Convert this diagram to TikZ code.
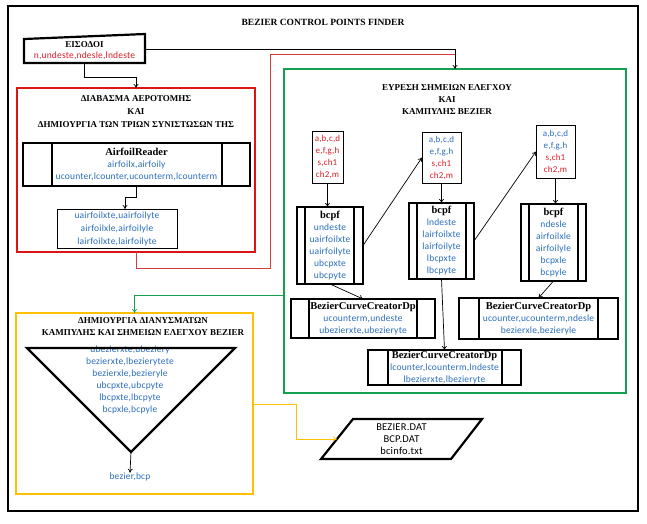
\documentclass[tikz,border=0pt]{standalone}
\usepackage{fontspec}
\setmainfont{Liberation Serif}
\newfontfamily\cb[LetterSpace=2]{Carlito}
\usetikzlibrary{arrows.meta}
\definecolor{tblue}{RGB}{40,110,190}
\definecolor{tred}{RGB}{225,30,40}
\definecolor{rbox}{RGB}{220,20,20}
\definecolor{rline}{RGB}{215,60,60}
\definecolor{gbox}{RGB}{20,160,80}
\definecolor{ybox}{RGB}{255,192,0}
\newcommand\bkt[1]{{\rmfamily\bfseries\color{black}\fontsize{10.5}{12}\selectfont #1}}
\begin{document}
\begin{tikzpicture}[x=1pt,y=-1pt,
  arr/.style={-{To[length=4pt,width=5pt]}, line width=0.7pt},
  hd/.style={font=\fontsize{9}{12}\selectfont\bfseries, align=center, inner sep=0pt},
  bt/.style={font=\cb\fontsize{9.5}{12}\selectfont, text=tblue, align=center, inner sep=0pt},
  proc/.style={draw, line width=2.2pt, inner sep=0pt, outer sep=0pt, align=center, font=\cb\fontsize{9.5}{12}\selectfont, text=tblue},
  thinbox/.style={draw, line width=0.9pt, inner sep=0pt, outer sep=0pt, align=center, font=\cb\fontsize{9}{12}\selectfont},
  bigbox/.style={draw, line width=2.2pt, inner sep=0pt, outer sep=0pt},
  divl/.style={line width=1.4pt}]
\useasboundingbox (0,0) rectangle (647,523);
\fill[white] (0,0) rectangle (647,523);
% outer frame
\draw[line width=2.8pt] (8,6) rectangle (638,511);
\node[hd, font=\fontsize{9.5}{12}\selectfont\bfseries] (title) at (323,22) {BEZIER CONTROL POINTS FINDER};

% input
\node[inner sep=0pt, outer sep=0pt, minimum width=121pt, minimum height=29pt] (inp) at (84.5,48.5) {};
\node[inner sep=0pt, align=center] (inpt) at (84.5,50.5)
  {{\fontsize{9}{14}\selectfont\bfseries ΕΙΣΟΔΟΙ}\\[-1pt]{\cb\fontsize{9.5}{12}\selectfont\color{tred} n,undeste,ndesle,lndeste}};
\draw[line width=2.2pt, line join=miter] (inp.south west) -- (inp.south east) -- (inp.north east) -- ([yshift=-5pt]inp.north west) -- cycle;

% red box
\node[bigbox, draw=rbox, minimum width=238pt, minimum height=164pt] (rb) at (136,170) {};
\node[hd] (rbt) at (136,112) {ΔΙΑΒΑΣΜΑ ΑΕΡΟΤΟΜΗΣ\\[1pt]ΚΑΙ\\[1pt]ΔΗΜΙΟΥΡΓΙΑ ΤΩΝ ΤΡΙΩΝ ΣΥΝΙΣΤΩΣΩΝ ΤΗΣ};
\node[proc, minimum width=227pt, minimum height=43pt] (ar) at (136.5,164.5)
  {\bkt{AirfoilReader}\\airfoilx,airfoily\\ucounter,lcounter,ucounterm,lcounterm};
\draw[divl] ([xshift=29pt]ar.north west) -- ([xshift=29pt]ar.south west);
\draw[divl] ([xshift=-28pt]ar.north east) -- ([xshift=-28pt]ar.south east);
\node[thinbox, text=tblue, minimum width=120pt, minimum height=39pt, font=\cb\fontsize{9.5}{13}\selectfont] (uab) at (117,228.5)
  {uairfoilxte,uairfoilyte\\airfoilxle,airfoilyle\\lairfoilxte,lairfoilyte};
\draw[arr] (ar.south) -- ++(0,11) -| ([xshift=8pt]uab.north);

% green box
\node[bigbox, draw=gbox, minimum width=342pt, minimum height=324pt] (gb) at (455,231) {};
\node[hd] (gbt) at (447,100) {ΕΥΡΕΣΗ ΣΗΜΕΙΩΝ ΕΛΕΓΧΟΥ\\ΚΑΙ\\ΚΑΜΠΥΛΗΣ BEZIER};

% small coefficient boxes
\node[thinbox, text=tred, minimum width=31pt, minimum height=52pt] (s1) at (327.5,157)
  {a,b,c,d\\e,f,g,h\\s,ch1\\ch2,m};
\node[thinbox, minimum width=39pt, minimum height=51pt] (s2) at (441.5,157.5)
  {\color{tblue}a,b,c,d\\\color{tblue}e,f,g,h\\\color{tred}s,ch1\\\color{tred}ch2,m};
\node[thinbox, minimum width=39pt, minimum height=53pt] (s3) at (555.5,151.5)
  {\color{tblue}a,b,c,d\\\color{tblue}e,f,g,h\\\color{tred}s,ch1\\\color{tred}ch2,m};

% bcpf boxes
\node[proc, minimum width=66pt, minimum height=77pt] (b1) at (330,245.5)
  {\bkt{bcpf}\\undeste\\uairfoilxte\\uairfoilyte\\ubcpxte\\ubcpyte};
\draw[divl] ([xshift=8pt]b1.north west) -- ([xshift=8pt]b1.south west);
\draw[divl] ([xshift=-9pt]b1.north east) -- ([xshift=-9pt]b1.south east);
\node[proc, minimum width=65pt, minimum height=76pt] (b2) at (441.5,241)
  {\bkt{bcpf}\\lndeste\\lairfoilxte\\lairfoilyte\\lbcpxte\\lbcpyte};
\draw[divl] ([xshift=8pt]b2.north west) -- ([xshift=8pt]b2.south west);
\draw[divl] ([xshift=-8pt]b2.north east) -- ([xshift=-8pt]b2.south east);
\node[proc, minimum width=65pt, minimum height=77pt] (b3) at (553.5,242.5)
  {\bkt{bcpf}\\ndesle\\airfoilxle\\airfoilyle\\bcpxle\\bcpyle};
\draw[divl] ([xshift=8pt]b3.north west) -- ([xshift=8pt]b3.south west);
\draw[divl] ([xshift=-8pt]b3.north east) -- ([xshift=-8pt]b3.south east);

% BezierCurveCreatorDp boxes
\node[proc, minimum width=144pt, minimum height=39pt] (c1) at (363,318.5)
  {\bkt{BezierCurveCreatorDp}\\ucounterm,undeste\\ubezierxte,ubezieryte};
\draw[divl] ([xshift=18pt]c1.north west) -- ([xshift=18pt]c1.south west);
\draw[divl] ([xshift=-18pt]c1.north east) -- ([xshift=-18pt]c1.south east);
\node[proc, minimum width=159pt, minimum height=41pt] (c3) at (538.5,318.5)
  {\bkt{BezierCurveCreatorDp}\\ucounter,ucounterm,ndesle\\bezierxle,bezieryle};
\draw[divl] ([xshift=20pt]c3.north west) -- ([xshift=20pt]c3.south west);
\draw[divl] ([xshift=-20pt]c3.north east) -- ([xshift=-20pt]c3.south east);
\node[proc, minimum width=153pt, minimum height=35pt] (c2) at (444.5,367.5)
  {\bkt{BezierCurveCreatorDp}\\lcounter,lcounterm,lndeste\\lbezierxte,lbezieryte};
\draw[divl] ([xshift=20pt]c2.north west) -- ([xshift=20pt]c2.south west);
\draw[divl] ([xshift=-19pt]c2.north east) -- ([xshift=-19pt]c2.south east);

% connectors inside green box
\draw[arr] (s1.south) -- (s1.south |- b1.north);
\draw[arr] (s2.south) -- (s2.south |- b2.north);
\draw[arr] (s3.south) -- (s3.south |- b3.north);
\draw[arr] (b1.east) -- (s2.west);
\draw[arr] (b2.east) -- (s3.west);
\draw[arr] (b1.south) -- (c1.north);
\draw[arr] (b2.south) -- (c2.north);
\draw[arr] (b3.south) -- (c3.north);

% yellow box
\node[bigbox, draw=ybox, minimum width=237pt, minimum height=181pt] (yb) at (134.5,403.5) {};
\node[hd] (ybt) at (143,327) {ΔΗΜΙΟΥΡΓΙΑ ΔΙΑΝΥΣΜΑΤΩΝ\\ΚΑΜΠΥΛΗΣ ΚΑΙ ΣΗΜΕΙΩΝ ΕΛΕΓΧΟΥ BEZIER};
\node[bt] (tri) at (130,380)
  {ubezierxte,ubeziery\\bezierxte,lbezierytete\\bezierxle,bezieryle\\ubcpxte,ubcpyte\\lbcpxte,lbcpyte\\bcpxle,bcpyle};
\coordinate (t1) at (27,348);
\coordinate (t2) at (235,348);
\coordinate (tt) at (131,452);
\draw[line width=2.2pt, line join=miter] (t1) -- (t2) -- (tt) -- cycle;
\node[bt] (bb) at (130,477) {bezier,bcp};
\draw[arr] (tt) -- (bb.north);

% output data
\node[inner sep=0pt, align=center, font=\cb\fontsize{10.5}{12}\selectfont] (out) at (401.5,439)
  {BEZIER.DAT\\BCP.DAT\\bcinfo.txt};
\coordinate (p1) at (353,419);
\coordinate (p2) at (482,419);
\coordinate (p3) at (451,459);
\coordinate (p4) at (321,459);
\coordinate (pl) at (337,439);
\draw[line width=2.2pt, line join=miter] (p1) -- (p2) -- (p3) -- (p4) -- cycle;

% main connectors
\draw[arr] (inp.south) -- ++(0,14) -| (rb.north);
\coordinate (rt) at (270,54);
\coordinate (rj) at (455,54);
\draw[rline, line width=0.8pt] (rb.south) -- ++(0,16) -| (rt) -- (rj);
\draw[arr] (inp.east |- 0,49) -| (gb.north);
\draw[arr, gbox] (gb.west |- 0,295) -| (yb.north);
\draw[arr, ybox] (yb.east |- 0,404) -| (296,439) -- (pl);
\end{tikzpicture}
\end{document}
